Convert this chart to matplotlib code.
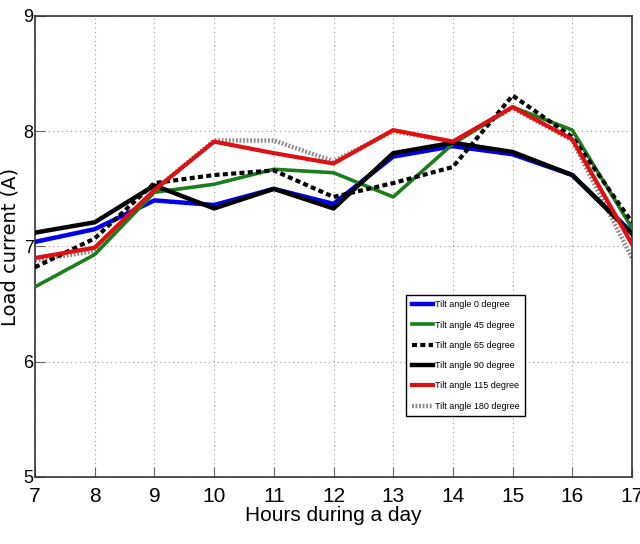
import matplotlib
matplotlib.use("Agg")
import matplotlib.pyplot as plt

hours = [7, 8, 9, 10, 11, 12, 13, 14, 15, 16, 17]
tilt_0 = [7.04, 7.15, 7.40, 7.36, 7.50, 7.37, 7.78, 7.87, 7.80, 7.62, 7.12]
tilt_45 = [6.65, 6.93, 7.47, 7.54, 7.67, 7.64, 7.43, 7.89, 8.21, 8.01, 7.16]
tilt_65 = [6.82, 7.07, 7.55, 7.62, 7.66, 7.43, 7.55, 7.69, 8.31, 7.95, 7.21]
tilt_90 = [7.12, 7.21, 7.53, 7.33, 7.50, 7.33, 7.81, 7.90, 7.82, 7.62, 7.11]
tilt_115 = [6.90, 6.99, 7.49, 7.91, 7.81, 7.72, 8.01, 7.91, 8.21, 7.93, 7.02]
tilt_180 = [6.88, 6.96, 7.49, 7.92, 7.92, 7.74, 8.00, 7.91, 8.20, 7.92, 6.90]
labels = ["Tilt angle 0 degree", "Tilt angle 45 degree", "Tilt angle 65 degree",
          "Tilt angle 90 degree", "Tilt angle 115 degree", "Tilt angle 180 degree"]
x_ticks = [7, 8, 9, 10, 11, 12, 13, 14, 15, 16, 17]
y_ticks = [5, 6, 7, 8, 9]

narrow = "Liberation Sans"

fig = plt.figure(figsize=(6.4, 5.44), dpi=100)
ax = fig.add_axes([0.0547, 0.1232, 0.9328, 0.8474])

l180, = ax.plot(hours, tilt_180, color="#888888", lw=3.2, ls=(0, (0.4, 0.4)), zorder=2)
l0, = ax.plot(hours, tilt_0, color="#0000ee", lw=3.2, zorder=3)
l45, = ax.plot(hours, tilt_45, color="#1a7f1a", lw=2.6, zorder=3)
l65, = ax.plot(hours, tilt_65, color="black", lw=3.0, ls=(0, (1.2, 0.8)), zorder=4)
l90, = ax.plot(hours, tilt_90, color="black", lw=3.2, zorder=3)
l115, = ax.plot(hours, tilt_115, color="#dd1111", lw=3.0, zorder=4)

ax.set_xlim(7, 17)
ax.set_ylim(5, 9)
ax.set_xticks(x_ticks)
ax.set_yticks(y_ticks)
ax.grid(True, ls=(0, (1, 3)), color="#999999", lw=0.8)
ax.tick_params(direction="in", length=7, color="#666666")
ax.tick_params(axis="x", pad=7, labelsize=15)
ax.tick_params(axis="y", pad=1, labelsize=13)
for lab in ax.get_xticklabels() + ax.get_yticklabels():
    lab.set_family(narrow)
for s in ax.spines.values():
    s.set_color("#333333")
    s.set_linewidth(1.2)

ax.set_xlabel("Hours during a day", family=narrow, fontsize=15, labelpad=0)
ax.set_ylabel("Load current (A)", fontsize=14)
ax.yaxis.set_label_coords(-0.026, 0.50)

leg = ax.legend([l0, l45, l65, l90, l115, l180], labels,
                loc="upper left", bbox_to_anchor=(0.622, 0.395),
                prop={"family": narrow, "size": 6.5}, handlelength=2.4,
                handletextpad=0.15, borderpad=0.6, labelspacing=1.25,
                borderaxespad=0, fancybox=False, framealpha=1, edgecolor="black")
leg.get_frame().set_linewidth(1.0)

fig.savefig("out.png", dpi=100)
